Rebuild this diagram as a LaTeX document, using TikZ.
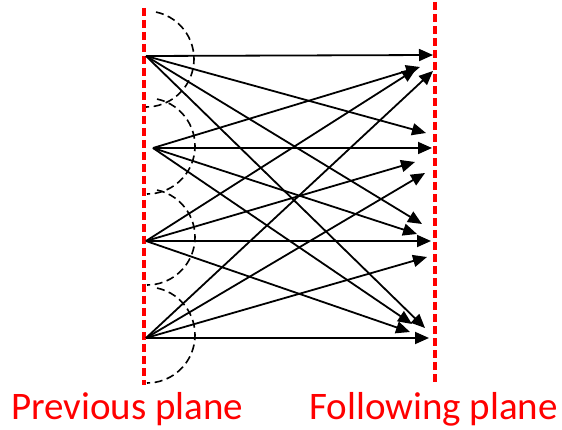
\documentclass[tikz,border=0pt]{standalone}
\usepackage{fontspec}
\setmainfont{Carlito}
\usetikzlibrary{arrows.meta}
\definecolor{planered}{RGB}{255,0,0}
\tikzset{
  plane/.style={draw=planered, line width=3.4pt, dash pattern=on 8pt off 4pt},
  halo/.style={draw=black, line width=1.6pt, dash pattern=on 8pt off 4.5pt},
  link/.style={draw=black, line width=1.8pt, -{Triangle[length=14pt,width=12pt]}},
  lbl/.style={text=planered, font=\fontsize{39}{45}\selectfont, inner sep=0pt, anchor=base west}
}
\begin{document}
\begin{tikzpicture}[x=1pt,y=-1pt]
\useasboundingbox (0,0) rectangle (562,430);
% planes
\coordinate (lt) at (144,8);
\coordinate (lb) at (144,385);
\coordinate (rt) at (435,2);
\coordinate (rb) at (435,383);
\draw[plane] (lt) -- (lb);
\draw[plane] (rt) -- (rb);
% sources
\coordinate (s1) at (146,56);
\coordinate (s2) at (153,148);
\coordinate (s3) at (146,241);
\coordinate (s4) at (146,338);
% dashed half circles
\coordinate (c1) at (146,59);
\coordinate (c2) at (147,146);
\coordinate (c3) at (147,237);
\coordinate (c4) at (147,335);
\foreach \c in {c1,c2,c3,c4}
  \draw[halo] ([shift={(-78:48)}]\c) arc[start angle=-78, end angle=90, radius=48];
% targets
\coordinate (t11) at (433,55);
\coordinate (t21) at (420,67);
\coordinate (t31) at (416,69);
\coordinate (t41) at (433,71);
\coordinate (t12) at (426,133);
\coordinate (t22) at (432,148);
\coordinate (t32) at (415,162);
\coordinate (t42) at (425,173);
\coordinate (t13) at (422,224);
\coordinate (t23) at (417,234);
\coordinate (t33) at (431,241);
\coordinate (t43) at (427,257);
\coordinate (t14) at (425,328);
\coordinate (t24) at (412,324);
\coordinate (t34) at (410,332);
\coordinate (t44) at (429,338);
\foreach \s in {1,2,3,4}
  \foreach \t in {1,2,3,4}
    \draw[link] (s\s) -- (t\s\t);
% labels
\node[lbl] (prev) at (11,419) {Previous plane};
\node[lbl] (foll) at (309,419) {Following plane};
\end{tikzpicture}
\end{document}
